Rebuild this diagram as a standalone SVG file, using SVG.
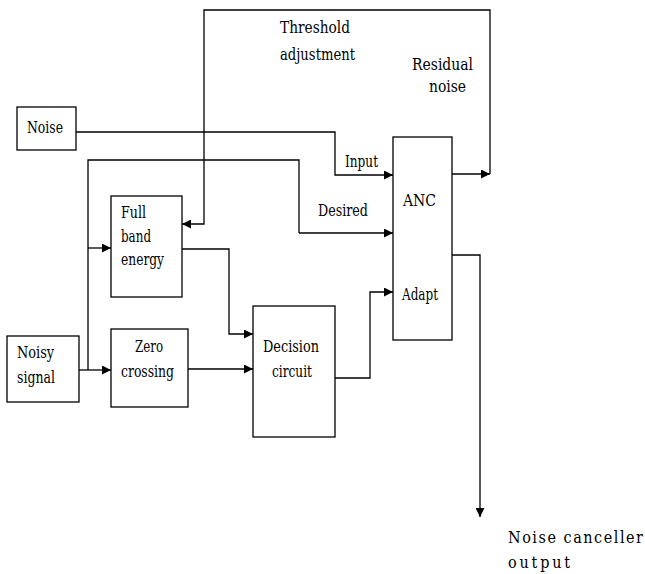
<svg xmlns="http://www.w3.org/2000/svg" width="645" height="574" viewBox="0 0 645 574">
<style>
.box{fill:#fff;stroke:#000;stroke-width:1.3}
.ln{fill:none;stroke:#000;stroke-width:1.3}
.arr{marker-end:url(#ah)}
.t{font-family:'DejaVu Serif Condensed','DejaVu Serif',serif;font-size:16px;fill:#000}
</style>
<defs>
<marker id="ah" viewBox="0 0 10 10" refX="10" refY="5" markerWidth="9" markerHeight="9" markerUnits="userSpaceOnUse" orient="auto">
<path d="M0,0 L10,5 L0,10 Z" fill="#000"/>
</marker>
</defs>
<rect width="645" height="574" fill="#fff"/>
<g id="connectors">
<path class="ln arr" d="M76,132 H335 V175 H393"/>
<path class="ln arr" d="M452,174 H490"/>
<path class="ln arr" d="M490,174 V10 H204 V224 H182"/>
<path class="ln arr" d="M79,370 H111"/>
<path class="ln" d="M88,370 V160 H299 V233"/>
<path class="ln arr" d="M299,233 H393"/>
<path class="ln arr" d="M88,248 H111"/>
<path class="ln arr" d="M182,249 H229 V334 H253"/>
<path class="ln arr" d="M188,369 H253"/>
<path class="ln arr" d="M335,378 H370 V292 H393"/>
<path class="ln arr" d="M452,255 H480 V517"/>
</g>
<g class="t">
<g id="noise"><rect class="box" x="17" y="107" width="59" height="43"/><text x="27" y="133" textLength="36" lengthAdjust="spacingAndGlyphs">Noise</text></g>
<g id="noisy-signal"><rect class="box" x="7" y="336" width="72" height="66"/><text x="17" y="358" textLength="37" lengthAdjust="spacingAndGlyphs">Noisy</text><text x="17" y="383" textLength="38" lengthAdjust="spacingAndGlyphs">signal</text></g>
<g id="full-band-energy"><rect class="box" x="111" y="196" width="71" height="101"/><text x="121" y="218" textLength="25" lengthAdjust="spacingAndGlyphs">Full</text><text x="121" y="242" textLength="30" lengthAdjust="spacingAndGlyphs">band</text><text x="121" y="265" textLength="43" lengthAdjust="spacingAndGlyphs">energy</text></g>
<g id="zero-crossing"><rect class="box" x="111" y="329" width="77" height="78"/><text x="135" y="352" textLength="28" lengthAdjust="spacingAndGlyphs">Zero</text><text x="121" y="377" textLength="53" lengthAdjust="spacingAndGlyphs">crossing</text></g>
<g id="decision-circuit"><rect class="box" x="253" y="306" width="82" height="131"/><text x="263" y="352" textLength="56" lengthAdjust="spacingAndGlyphs">Decision</text><text x="272" y="377" textLength="40" lengthAdjust="spacingAndGlyphs">circuit</text></g>
<g id="anc"><rect class="box" x="393" y="137" width="59" height="203"/><text x="403" y="206" textLength="33" lengthAdjust="spacingAndGlyphs">ANC</text><text x="402" y="300" textLength="36" lengthAdjust="spacingAndGlyphs">Adapt</text></g>
<g id="labels">
<text x="280" y="33" textLength="70" lengthAdjust="spacingAndGlyphs">Threshold</text>
<text x="280" y="60" textLength="75" lengthAdjust="spacingAndGlyphs">adjustment</text>
<text x="412" y="70" textLength="61" lengthAdjust="spacingAndGlyphs">Residual</text>
<text x="429" y="92" textLength="37" lengthAdjust="spacingAndGlyphs">noise</text>
<text x="345" y="167" textLength="33" lengthAdjust="spacingAndGlyphs">Input</text>
<text x="318" y="216" textLength="50" lengthAdjust="spacingAndGlyphs">Desired</text>
<text x="508" y="543" textLength="135" lengthAdjust="spacing">Noise canceller</text>
<text x="508" y="568" textLength="62" lengthAdjust="spacing">output</text>
</g>
</g>
</svg>
